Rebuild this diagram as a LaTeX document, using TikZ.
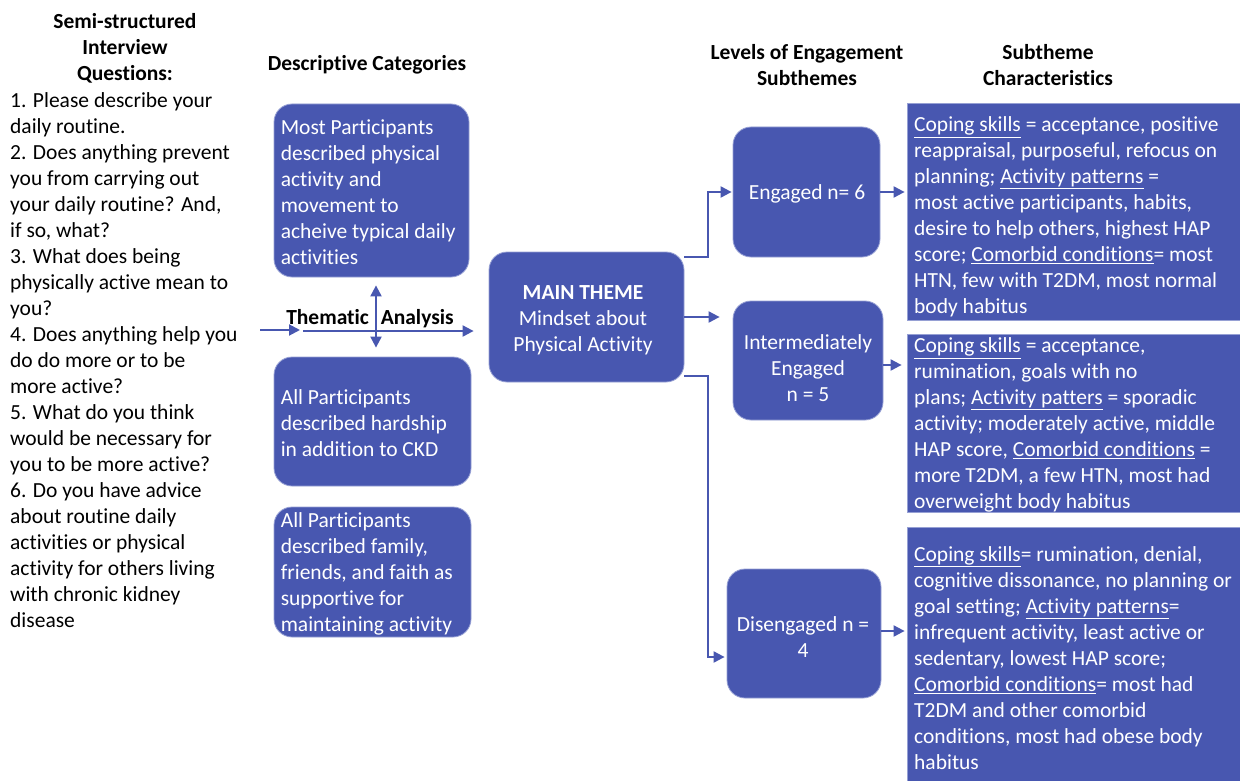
\documentclass[tikz,border=0pt]{standalone}
\usepackage{fontspec}
\setmainfont{Carlito}[Ligatures={NoCommon}]
\usetikzlibrary{arrows.meta,calc}
\definecolor{themeblue}{RGB}{72,87,176}
\definecolor{edgeblue}{RGB}{150,160,212}
\tikzset{
  rbox/.style={draw=edgeblue,line width=0.8pt,fill=themeblue,rounded corners=18pt,inner sep=0pt},
  sbox/.style={draw=edgeblue,line width=0.8pt,fill=themeblue,inner sep=0pt},
  wtxt/.style={text=white,inner sep=0pt,font=\fontsize{21.5}{26}\selectfont},
  btxt/.style={text=black,inner sep=0pt,font=\fontsize{21.5}{26}\selectfont},
  hdr/.style={text=black,inner sep=0pt,font=\fontsize{21.5}{26}\selectfont\bfseries,align=center},
  conn/.style={draw=themeblue,line width=2pt,-{Triangle[length=11pt,width=11pt]}},
  conn2/.style={draw=themeblue,line width=2pt,{Triangle[length=11pt,width=11pt]}-{Triangle[length=11pt,width=11pt]}}
}
\begin{document}
\begin{tikzpicture}[x=1pt,y=-1pt]
\useasboundingbox (0,0) rectangle (1240,781);
% left questions
\node[hdr] (qtitle) at (125,48) {Semi-structured\\Interview\\Questions:};
\node[btxt,align=left,anchor=west] (qlist) at (10,360) {1. Please describe your\\daily routine.\\2. Does anything prevent\\you from carrying out\\your daily routine? And,\\if so, what?\\3. What does being\\physically active mean to\\you?\\4. Does anything help you\\do do more or to be\\more active?\\5. What do you think\\would be necessary for\\you to be more active?\\6. Do you have advice\\about routine daily\\activities or physical\\activity for others living\\with chronic kidney\\disease};
% headers
\node[hdr] (hdesc) at (367,65) {Descriptive Categories};
\node[hdr] (hlev) at (807,65) {Levels of Engagement\\Subthemes};
\node[hdr] (hchar) at (1048,65) {Subtheme\\Characteristics};
% descriptive boxes
\node[rbox,minimum width=195pt,minimum height=173pt] (d1) at (371.5,190.5) {};
\node[wtxt,align=left,anchor=west] at ($(d1.west)+(7,2)$) {Most Participants\\described physical\\activity and\\movement to\\acheive typical daily\\activities};
\node[rbox,minimum width=197pt,minimum height=129pt] (d2) at (372.5,421.5) {};
\node[wtxt,align=left,anchor=west] at ($(d2.west)+(7,2)$) {All Participants\\described hardship\\in addition to CKD};
\node[rbox,minimum width=197pt,minimum height=130pt] (d3) at (372.5,572) {};
\node[wtxt,align=left,anchor=west] at ($(d3.west)+(7,2)$) {All Participants\\described family,\\friends, and faith as\\supportive for\\maintaining activity};
% thematic analysis
\node[hdr] (tha) at (370,319) {Thematic\hspace{7pt} Analysis};
% main theme
\node[rbox,minimum width=195pt,minimum height=130pt] (main) at (586.5,317) {};
\node[wtxt,align=center] at (583,320) {\textbf{MAIN THEME}\\Mindset about\\Physical Activity};
% subthemes
\node[rbox,minimum width=147pt,minimum height=130pt] (eng) at (806.5,192) {};
\node[wtxt] at (807,194) {Engaged n= 6};
\node[rbox,minimum width=150pt,minimum height=119pt] (int) at (808,360.5) {};
\node[wtxt,align=center] at (808,368) {Intermediately\\Engaged\\n = 5};
\node[rbox,minimum width=154pt,minimum height=129pt] (dis) at (804,633.5) {};
\node[wtxt,align=center] at (803,637) {Disengaged n =\\4};
% characteristic boxes
\node[sbox,minimum width=336pt,minimum height=217pt] (ca) at (1075,211.5) {};
\node[wtxt,align=left,anchor=west] at (914,217) {\underline{Coping skills} = acceptance, positive\\reappraisal, purposeful, refocus on\\planning; \underline{Activity patterns} =\\most active participants, habits,\\desire to help others, highest HAP\\score; \underline{Comorbid conditions}= most\\HTN, few with T2DM, most normal\\body habitus};
\node[sbox,minimum width=336pt,minimum height=178pt] (cb) at (1075,423) {};
\node[wtxt,align=left,anchor=west] at (914,425) {\underline{Coping skills} = acceptance,\\rumination, goals with no\\plans; \underline{Activity patters} = sporadic\\activity; moderately active, middle\\HAP score, \underline{Comorbid conditions} =\\more T2DM, a few HTN, most had\\overweight body habitus};
\node[sbox,minimum width=336pt,minimum height=258pt] (cc) at (1075,656) {};
\node[wtxt,align=left,anchor=west] at (914,658) {\underline{Coping skills}= rumination, denial,\\cognitive dissonance, no planning or\\goal setting; \underline{Activity patterns}=\\infrequent activity, least active or\\sedentary, lowest HAP score;\\\underline{Comorbid conditions}= most had\\T2DM and other comorbid\\conditions, most had obese body\\habitus};
% connectors
\coordinate (qa) at (260,330);
\coordinate (qb) at (300,330);
\draw[conn] (qa) -- (qb);
\coordinate (ta) at (303,331);
\draw[conn] (ta) -- (ta -| main.west) [shorten >=15pt];
\draw[conn2] ([yshift=-8pt]d1.south -| 376,0) -- ([yshift=9pt]d2.north -| 376,0);
\draw[conn,shorten >=13pt] (main.east) -- (main.east -| int.west);
\draw[conn,shorten >=1pt] (main.east |- 0,257) -- (708,257) -- (708,192) -- (eng.west);
\draw[conn,shorten >=2pt] (main.east |- 0,376) -- (708,376) -- (708,657) -- (dis.west |- 0,657);
\draw[conn,shorten >=2pt] (eng.east) -- (eng.east -| ca.west);
\draw[conn,shorten >=5pt] (int.east |- 0,365) -- (ca.west |- 0,365);
\draw[conn,shorten >=2pt] (dis.east |- 0,631) -- (cc.west |- 0,631);
\end{tikzpicture}
\end{document}
